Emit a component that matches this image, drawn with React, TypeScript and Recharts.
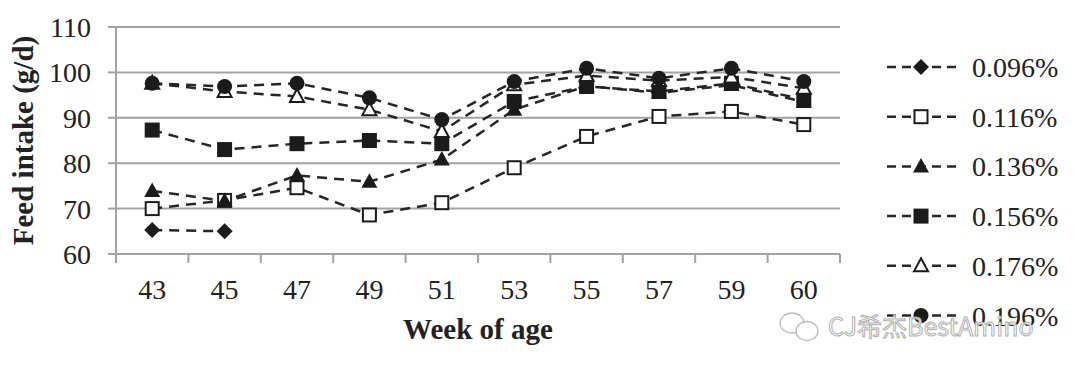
import React from 'react';
import { LineChart, Line, XAxis, YAxis, CartesianGrid, Label } from 'recharts';

// ---- data ----
const weeks = ['43', '45', '47', '49', '51', '53', '55', '57', '59', '60'];
const seriesNames = ['0.096%', '0.116%', '0.136%', '0.156%', '0.176%', '0.196%'];
const s096: (number | null)[] = [65.3, 65.0, null, null, null, null, null, null, null, null];
const s116 = [70.0, 71.8, 74.6, 68.6, 71.3, 79.0, 85.9, 90.3, 91.4, 88.5];
const s136 = [73.9, 71.7, 77.3, 75.9, 80.8, 91.8, 97.0, 95.5, 97.2, 93.5];
const s156 = [87.3, 83.0, 84.3, 85.0, 84.3, 93.6, 96.9, 95.8, 97.6, 94.0];
const s176 = [97.6, 95.8, 94.7, 91.8, 87.0, 97.3, 99.3, 98.2, 99.0, 96.5];
const s196 = [97.6, 96.9, 97.6, 94.4, 89.6, 98.0, 100.9, 98.7, 100.9, 98.0];
const yTicks = [60, 70, 80, 90, 100, 110];
const xTitle = 'Week of age';
const yTitle = 'Feed intake (g/d)';
const watermark = 'CJ希杰BestAmino';

const seriesValues = [s096, s116, s136, s156, s176, s196];
const seriesKeys = ['s096', 's116', 's136', 's156', 's176', 's196'];
const markerKinds = ['diamond', 'openSquare', 'triangle', 'square', 'openTriangle', 'circle'];

const data = weeks.map((w, i) => {
  const row: Record<string, any> = { week: w };
  seriesKeys.forEach((k, j) => {
    row[k] = seriesValues[j][i];
  });
  return row;
});

// ---- style ----
const W = 1064;
const H = 360;
const MARGIN = { top: 19, right: 232, bottom: 0, left: 0 };
const Y_AXIS_W = 108;
const X_AXIS_H = 114;
const PLOT_W = W - MARGIN.right - MARGIN.left - Y_AXIS_W;
const BAND = PLOT_W / weeks.length;
const GRID = '#a3a3a3';
const INK = '#1b1b1b';
const LINE = '#262626';
const SERIF = '"Liberation Serif", "Times New Roman", serif';

function shape(kind: string, cx: number, cy: number) {
  switch (kind) {
    case 'diamond':
      return <polygon points={`${cx},${cy - 8} ${cx + 8},${cy} ${cx},${cy + 8} ${cx - 8},${cy}`} fill={INK} />;
    case 'openSquare':
      return <rect x={cx - 6.5} y={cy - 6.5} width={13} height={13} fill="#fff" stroke={INK} strokeWidth={2} />;
    case 'triangle':
      return <polygon points={`${cx},${cy - 8.5} ${cx + 8},${cy + 6} ${cx - 8},${cy + 6}`} fill={INK} />;
    case 'square':
      return <rect x={cx - 7.5} y={cy - 7.5} width={15} height={15} fill={INK} />;
    case 'openTriangle':
      return (
        <polygon
          points={`${cx},${cy - 7.5} ${cx + 7},${cy + 5.5} ${cx - 7},${cy + 5.5}`}
          fill="#fff"
          stroke={INK}
          strokeWidth={2}
        />
      );
    case 'circle':
    default:
      return <circle cx={cx} cy={cy} r={7.5} fill={INK} />;
  }
}

function makeDot(kind: string) {
  return (props: any) => {
    const { cx, cy, index, value } = props;
    const v = Array.isArray(value) ? value[1] : value;
    if (cx == null || cy == null || v == null || Number.isNaN(cy)) return <g key={`d-${index}`} />;
    return <g key={`d-${index}`}>{shape(kind, cx, cy)}</g>;
  };
}

function XTick(props: any) {
  const { x, y, payload, index } = props;
  const half = BAND / 2;
  return (
    <g>
      <line x1={x - half} x2={x - half} y1={y} y2={y + 9} stroke={GRID} strokeWidth={2} />
      {index === weeks.length - 1 && (
        <line x1={x + half} x2={x + half} y1={y} y2={y + 9} stroke={GRID} strokeWidth={2} />
      )}
      <text x={x} y={y + 45} textAnchor="middle" fontFamily={SERIF} fontSize={28} fill="#222">
        {payload.value}
      </text>
    </g>
  );
}

function Overlay() {
  const lx0 = 879;
  const lx1 = 949;
  const mx = 913;
  const tx = 964;
  const y0 = 59;
  const step = 49.7;
  return (
    <svg
      width={W}
      height={H}
      style={{ position: 'absolute', left: 0, top: 0, pointerEvents: 'none', overflow: 'visible' }}
    >
      {seriesNames.map((name, i) => {
        const y = y0 + i * step;
        return (
          <g key={name}>
            <line x1={lx0} x2={lx1} y1={y} y2={y} stroke={LINE} strokeWidth={2.5} strokeDasharray="9 6" />
            {shape(markerKinds[i], mx, y)}
            <text x={tx} y={y + 10} fontFamily={SERIF} fontSize={28} fill="#222">
              {name}
            </text>
          </g>
        );
      })}
      <g opacity={0.9}>
        <ellipse cx={784} cy={315} rx={12} ry={10} fill="#fff" stroke="#b5b5b5" strokeWidth={1.3} />
        <ellipse cx={799} cy={323} rx={11} ry={9.5} fill="#fff" stroke="#b5b5b5" strokeWidth={1.3} />
        <text
          x={820}
          y={328}
          fontFamily='"Noto Sans CJK SC", "Noto Sans", sans-serif'
          fontSize={25}
          fill="#fff"
          stroke="#a9a9a9"
          strokeWidth={1}
        >
          {watermark}
        </text>
      </g>
    </svg>
  );
}

export default function App() {
  return (
    <div style={{ position: 'relative', width: W, height: H }}>
      <LineChart width={W} height={H} data={data} margin={MARGIN}>
        <CartesianGrid vertical={false} stroke={GRID} strokeWidth={2} />
        <XAxis
          dataKey="week"
          type="category"
          interval={0}
          padding={{ left: BAND / 2, right: BAND / 2 }}
          height={X_AXIS_H}
          tickLine={false}
          tickSize={0}
          tickMargin={0}
          axisLine={{ stroke: GRID, strokeWidth: 2 }}
          tick={<XTick />}
        >
          <Label
            value={xTitle}
            position="insideBottom"
            offset={29}
            style={{ fontFamily: SERIF, fontSize: 29, fontWeight: 'bold', fill: '#222' }}
          />
        </XAxis>
        <YAxis
          domain={[60, 110]}
          ticks={yTicks}
          interval={0}
          width={Y_AXIS_W}
          tickSize={8}
          tickMargin={17}
          tickLine={{ stroke: GRID, strokeWidth: 2 }}
          axisLine={{ stroke: GRID, strokeWidth: 2 }}
          tick={{ fontFamily: SERIF, fontSize: 28, fill: '#222' }}
        >
          <Label
            content={(p: any) => {
              const vb = p.viewBox || { x: 0, y: 19, width: 108, height: 227 };
              const cx = vb.x + 15;
              const cy = vb.y + vb.height / 2;
              return (
                <text
                  x={cx}
                  y={cy}
                  transform={`rotate(-90, ${cx}, ${cy})`}
                  textAnchor="middle"
                  dominantBaseline="central"
                  fontFamily={SERIF}
                  fontSize={29}
                  fontWeight="bold"
                  fill="#222"
                >
                  {yTitle}
                </text>
              );
            }}
          />
        </YAxis>
        {seriesKeys.map((k, i) => (
          <Line
            key={k}
            dataKey={k}
            name={seriesNames[i]}
            type="linear"
            stroke={LINE}
            strokeWidth={2.5}
            strokeDasharray="10 7"
            connectNulls={false}
            isAnimationActive={false}
            dot={makeDot(markerKinds[i])}
            activeDot={false}
          />
        ))}
      </LineChart>
      <Overlay />
    </div>
  );
}
